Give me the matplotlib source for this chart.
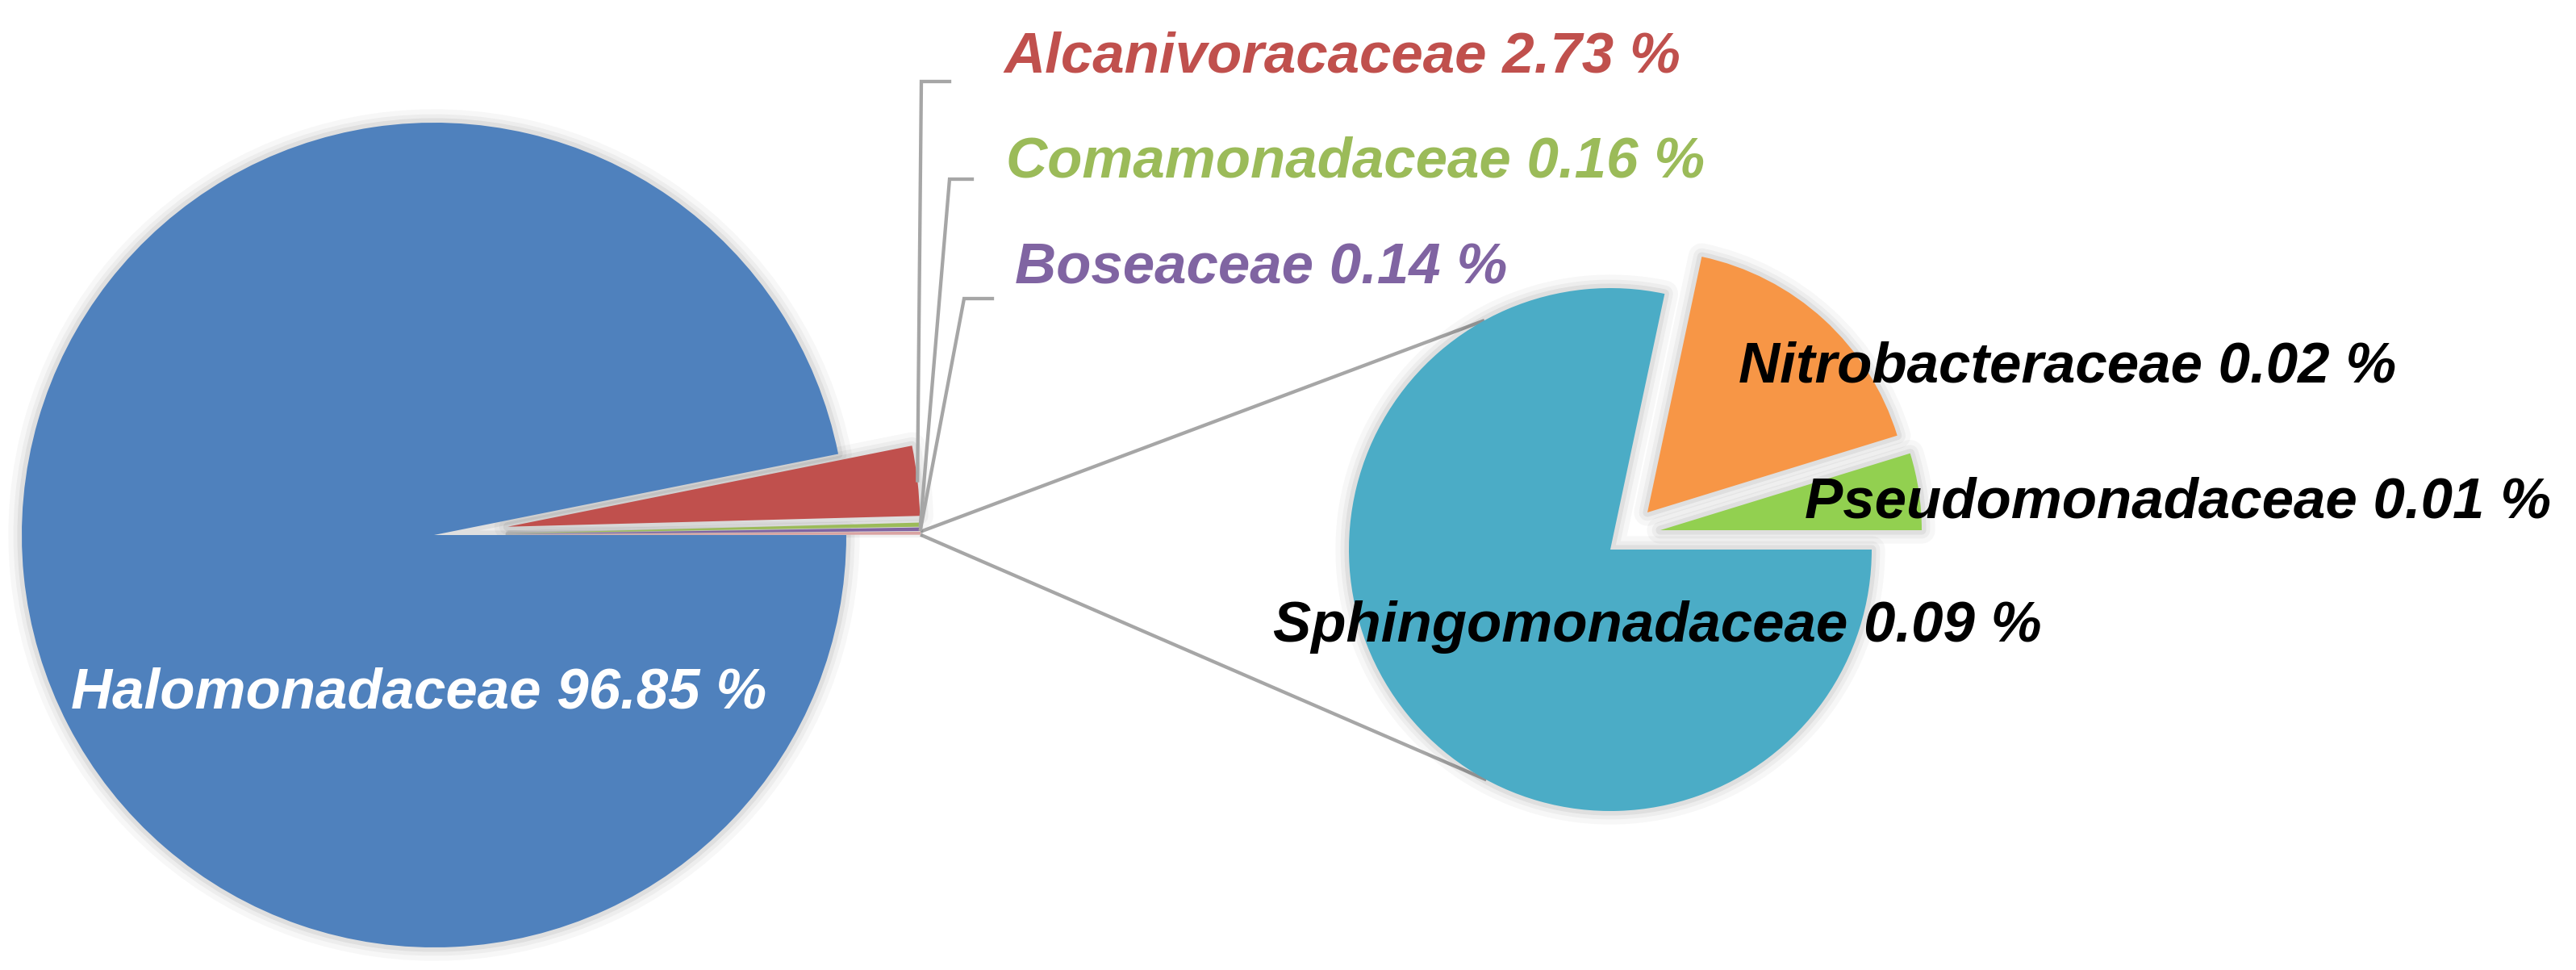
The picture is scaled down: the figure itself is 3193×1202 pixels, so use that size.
import numpy as np
import matplotlib
matplotlib.use('Agg')
import matplotlib.pyplot as plt
import matplotlib.patheffects as pe

# ---------------- data ----------------
main_names = ['Halomonadaceae', 'Alcanivoracaceae', 'Comamonadaceae', 'Boseaceae']
main_values = [96.85, 2.73, 0.16, 0.14]
main_colors = ['#4F81BD', '#C0504D', '#9BBB59', '#8064A2']
main_label_colors = ['white', '#C0504D', '#9BBB59', '#8064A2']

sub_names = ['Sphingomonadaceae', 'Nitrobacteraceae', 'Pseudomonadaceae']
sub_values = [0.094, 0.0203, 0.0057]
sub_colors = ['#4BACC6', '#F79646', '#92D050']
other_color = '#D9A3A2'

# ---------------- layout (pixel coords, y measured from top) ----------------
W, H = 3193, 1202
def Y(y):
    return H - y

c1 = (538, Y(663)); r1 = 511
c2 = (1996, Y(681)); r2 = 324
main_explode_px = 92                           # offset of the small slices, pixels
sub_shift = [(0, 0), (46, 46), (62, 24)]      # per sub slice, pixels (x right, y up)
conn_angles = [118.8, 241.7]                  # where connectors meet pie 2

main_text_pos = [(88, 878), (1244, 90), (1247, 219), (1258, 352)]
main_elbow = [None, (1142, 101, 1177), (1177, 222, 1205), (1195, 370, 1230)]
sub_text_pos = [(1578, 795), (2155, 473), (2237, 642)]

FONT = dict(family='Liberation Sans', weight='bold', style='italic', size=51)
LINE = '#A6A6A6'
LW = 3.1

fig = plt.figure(figsize=(W / 100, H / 100), dpi=100)
ax = fig.add_axes([0, 0, 1, 1])

shadow_fx = [pe.Stroke(linewidth=24, foreground=(0, 0, 0, 0.03), joinstyle='round'),
             pe.Stroke(linewidth=15, foreground=(0, 0, 0, 0.04), joinstyle='round'),
             pe.Stroke(linewidth=8, foreground=(0, 0, 0, 0.06), joinstyle='round')]
thin_fx = [pe.Stroke(linewidth=5, foreground=(0, 0, 0, 0.05), joinstyle='round')]

# ---------------- main pie ----------------
other_val = sum(sub_values)
p1_vals = [other_val] + main_values[::-1]
p1_cols = [other_color] + main_colors[::-1]
p1_expl = [main_explode_px] * (len(p1_vals) - 1) + [0]

sh1, _ = ax.pie(p1_vals, explode=p1_expl, startangle=0, counterclock=True,
                center=c1, radius=r1,
                wedgeprops=dict(facecolor='none', edgecolor='none', path_effects=shadow_fx,
                                zorder=1))
for w, v in zip(sh1, p1_vals):
    if v < 1:
        w.set_path_effects(thin_fx)
w1, _ = ax.pie(p1_vals, explode=p1_expl, colors=p1_cols, startangle=0, counterclock=True,
               center=c1, radius=r1,
               wedgeprops=dict(edgecolor='none', linewidth=0, zorder=2))

# ---------------- second pie ----------------
p2_vals = sub_values[::-1]
p2_cols = sub_colors[::-1]
p2_shift = sub_shift[::-1]
sh2, _ = ax.pie(p2_vals, startangle=0, counterclock=True, center=c2, radius=r2,
                wedgeprops=dict(facecolor='none', edgecolor='none', path_effects=shadow_fx,
                                zorder=1))
w2, _ = ax.pie(p2_vals, colors=p2_cols, startangle=0, counterclock=True, center=c2, radius=r2,
               wedgeprops=dict(edgecolor='none', linewidth=0, zorder=2))
for group in (sh2, w2):
    for w, (dx, dy) in zip(group, p2_shift):
        w.set_center((c2[0] + dx, c2[1] + dy))

# ---------------- connectors from "other" slice to pie 2 ----------------
ow = w1[0]
ocx, ocy = ow.center
for th_o, th_2 in zip([ow.theta2, ow.theta1], conn_angles):
    x0 = ocx + ow.r * np.cos(np.radians(th_o))
    y0 = ocy + ow.r * np.sin(np.radians(th_o))
    x1 = c2[0] + r2 * np.cos(np.radians(th_2))
    y1 = c2[1] + r2 * np.sin(np.radians(th_2))
    ax.plot([x0, x1], [y0, y1], color=LINE, lw=LW, zorder=0.5, solid_capstyle='butt')

# ---------------- main labels + leaders ----------------
n = len(main_values)
for i, (name, val) in enumerate(zip(main_names, main_values)):
    tx, ty = main_text_pos[i]
    ax.text(tx, Y(ty), f'{name} {val:.2f} %', color=main_label_colors[i],
            ha='left', va='baseline', zorder=5, **FONT)
    if main_elbow[i] is not None:
        w = w1[n - i]
        thm = np.radians((w.theta1 + w.theta2) / 2)
        sx = w.center[0] + w.r * np.cos(thm)
        sy = w.center[1] + w.r * np.sin(thm)
        ex, ey, tx2 = main_elbow[i]
        ax.plot([sx, ex, tx2], [sy, Y(ey), Y(ey)], color=LINE, lw=LW, zorder=4,
                solid_joinstyle='miter')

# ---------------- sub labels ----------------
for i, (name, val) in enumerate(zip(sub_names, sub_values)):
    tx, ty = sub_text_pos[i]
    ax.text(tx, Y(ty), f'{name} {val:.2f} %', color='black',
            ha='left', va='baseline', zorder=5, **FONT)

ax.set_xlim(0, W)
ax.set_ylim(0, H)
ax.set_aspect('equal')
ax.set_axis_off()
fig.savefig('out.png', dpi=100, facecolor='white')
